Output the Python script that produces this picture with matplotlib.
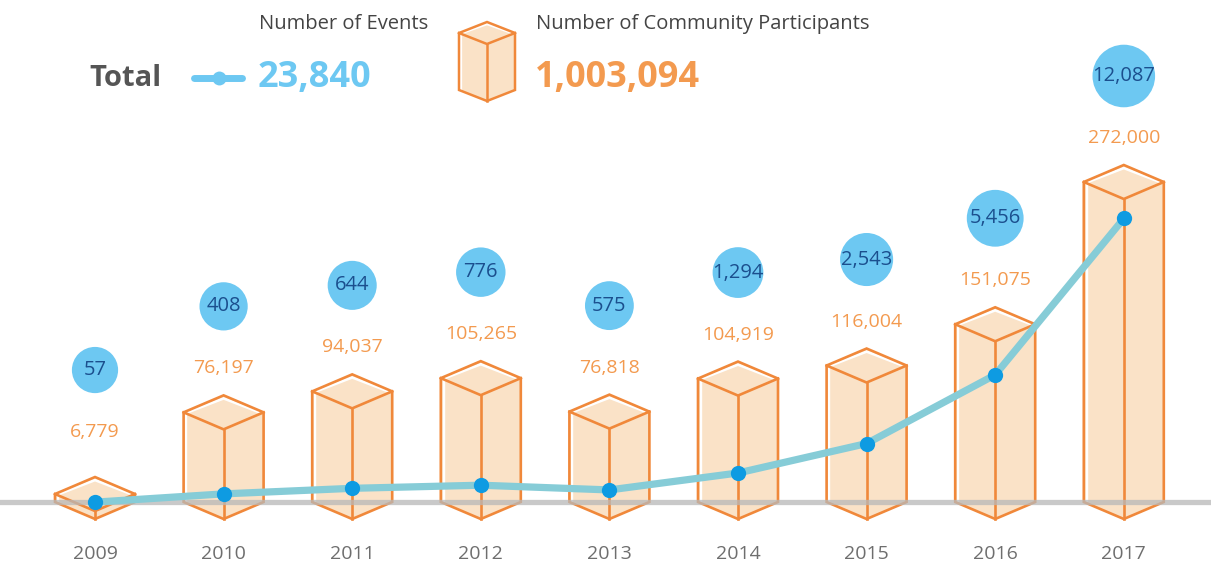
import numpy as np
import matplotlib.pyplot as plt
from matplotlib.patches import Polygon

plt.rcParams['font.family'] = ['Open Sans', 'DejaVu Sans']

years = ["2009", "2010", "2011", "2012", "2013", "2014", "2015", "2016", "2017"]
participants = [6779, 76197, 94037, 105265, 76818, 104919, 116004, 151075, 272000]
events = [57, 408, 644, 776, 575, 1294, 2543, 5456, 12087]
total_events = "23,840"
total_participants = "1,003,094"

W, H = 1211, 565
fig = plt.figure(figsize=(W / 100, H / 100), dpi=100)

# main axis: participants, pixel-matched limits
x0_px, step_px = 95, 128.6
ypp = 850.0                      # participants per pixel
base_up = 63                     # baseline, pixels from bottom
ax = fig.add_axes([0, 0, 1, 1])
ax.set_xlim(-x0_px / step_px, (W - x0_px) / step_px)
ax.set_ylim(-base_up * ypp, (H - base_up) * ypp)
ax.axis('off')

ax2 = ax.twinx()
epp = 1 / 0.02358                # events per pixel
ev_base = 61.5
ax2.set_ylim(-ev_base * epp, (H - ev_base) * epp)
ax2.axis('off')

fill = '#FAE2C7'
edge = '#F0883A'
bw = 40 / step_px
bd = 17 * ypp


def draw_box(a, xc, w, y0, y1, d, lw=1.9):
    # isometric box: left/right corners at y0..y1, front vertex dropped by d
    left_face = [(xc - w, y0), (xc - w, y1), (xc, y1 - d), (xc, y0 - d)]
    right_face = [(xc, y0 - d), (xc, y1 - d), (xc + w, y1), (xc + w, y0)]
    top_face = [(xc - w, y1), (xc, y1 + d), (xc + w, y1), (xc, y1 - d)]
    for f in (left_face, right_face, top_face):
        a.add_patch(Polygon(f, closed=True, facecolor=fill, edgecolor='none', zorder=2))
    # white highlights
    ix = w * 0.1
    iy = d * 0.18
    a.plot([xc - w + ix, xc, xc + w - ix], [y1, y1 + d - iy, y1], color='white', lw=lw, zorder=3,
           solid_capstyle='butt')
    if y1 - y0 > 2 * iy:
        a.plot([xc - w + ix * 0.7] * 2, [y1 - iy, y0 + iy * 0.3], color='white', lw=lw * 0.9, zorder=3)
    outline = [(xc - w, y0), (xc - w, y1), (xc, y1 + d), (xc + w, y1), (xc + w, y0), (xc, y0 - d)]
    a.add_patch(Polygon(outline, closed=True, facecolor='none', edgecolor=edge, lw=lw,
                        joinstyle='miter', zorder=4))
    a.plot([xc - w, xc, xc + w], [y1, y1 - d, y1], color=edge, lw=lw, zorder=4)
    a.plot([xc, xc], [y1 - d, y0 - d], color=edge, lw=lw, zorder=4)


xs = np.arange(len(years))
for i, v in enumerate(participants):
    draw_box(ax, xs[i], bw, 0, v, bd)

# gray baseline
ax.axhline(0, color='#B8B8B8', lw=3.8, alpha=0.75, zorder=5)

# events line
ax2.plot(xs, events, color='#86CCD7', lw=5.2, zorder=6, solid_capstyle='round')
ax2.plot(xs, events, 'o', color='#0E9BE2', ms=11, mec='none', zorder=7)

# labels and bubbles
for i, (v, e) in enumerate(zip(participants, events)):
    top = v + bd
    lab_off = 27 if v > 30000 else 45
    ax.annotate(f"{v:,}", (xs[i], top), xytext=(0, lab_off * 0.72), textcoords='offset points',
                ha='center', va='center', fontsize=14, color='#F39A4F', zorder=8)
    r = 22.5 + 0.08 * np.sqrt(e)
    by = top + (lab_off + 62) * ypp
    ax.scatter([xs[i]], [by], s=(1.44 * r) ** 2, color='#6DC8F2', edgecolors='none', zorder=8)
    ax.text(xs[i], by, f"{e:,}", ha='center', va='center', fontsize=14.5, color='#1B4F8E', zorder=9)
    ax.text(xs[i], -52 * ypp, years[i], ha='center', va='center', fontsize=14, color='#6E6E6E')

# legend in pixel coordinates
lg = fig.add_axes([0, 0, 1, 1])
lg.set_xlim(0, W)
lg.set_ylim(0, H)
lg.axis('off')
lg.patch.set_alpha(0)

lg.text(89, H - 79, "Total", fontsize=21, fontweight='bold', color='#555555', va='center', ha='left')
lg.plot([194, 242], [H - 78, H - 78], color='#6DC8F2', lw=5, solid_capstyle='round')
lg.plot([219], [H - 78], 'o', color='#6DC8F2', ms=10, mec='none')
lg.text(259, H - 24, "Number of Events", fontsize=14.5, color='#444444', va='center', ha='left')
lg.text(258, H - 78, total_events, fontsize=26, fontweight='bold', color='#6DC8F2', va='center', ha='left')
draw_box(lg, 487, 28, H - 90, H - 33, 11, lw=1.8)
lg.text(536, H - 24, "Number of Community Participants", fontsize=14.5, color='#444444',
        va='center', ha='left')
lg.text(535, H - 78, total_participants, fontsize=26, fontweight='bold', color='#F39A4F',
        va='center', ha='left')

plt.savefig('out.png', dpi=100)
